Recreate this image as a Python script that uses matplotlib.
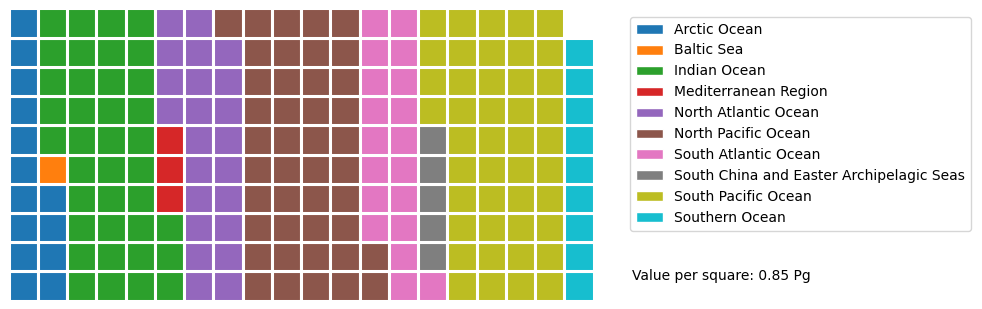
import matplotlib

matplotlib.use("Agg")
import matplotlib.pyplot as plt
from matplotlib.patches import Rectangle, Patch

# squares per region (one square = 0.85 Pg)
regions = [
    "Arctic Ocean",
    "Baltic Sea",
    "Indian Ocean",
    "Mediterranean Region",
    "North Atlantic Ocean",
    "North Pacific Ocean",
    "South Atlantic Ocean",
    "South China and Easter Archipelagic Seas",
    "South Pacific Ocean",
    "Southern Ocean",
]
squares = [14, 1, 38, 3, 23, 43, 19, 5, 44, 9]
colors = ["#1f77b4", "#ff7f0e", "#2ca02c", "#d62728", "#9467bd",
          "#8c564b", "#e377c2", "#7f7f7f", "#bcbd22", "#17becf"]
n_rows, n_cols = 10, 20
value_per_square = 0.85

fig = plt.figure(figsize=(9.82, 3.09), dpi=100)
ax = fig.add_axes([8.5 / 982, 8.5 / 309, 585 / 982, 292 / 309])

# fill column by column, bottom to top
k = 0
for name, n, col in zip(regions, squares, colors):
    for _ in range(n):
        c, r = divmod(k, n_rows)
        ax.add_patch(Rectangle((c, r), 1, 1, facecolor=col,
                               edgecolor="white", linewidth=2.2))
        k += 1

ax.set_xlim(0, n_cols)
ax.set_ylim(0, n_rows)
ax.axis("off")

handles = [Patch(facecolor=c, edgecolor="white", label=l)
           for l, c in zip(regions, colors)]
fig.legend(handles=handles, loc="upper left",
           bbox_to_anchor=(630 / 982, 1 - 17 / 309), fontsize=10,
           borderaxespad=0, handlelength=2.0)
fig.text(632 / 982, 1 - 276 / 309,
         f"Value per square: {value_per_square} Pg", fontsize=10, va="center")

fig.savefig("out.png", dpi=100)
